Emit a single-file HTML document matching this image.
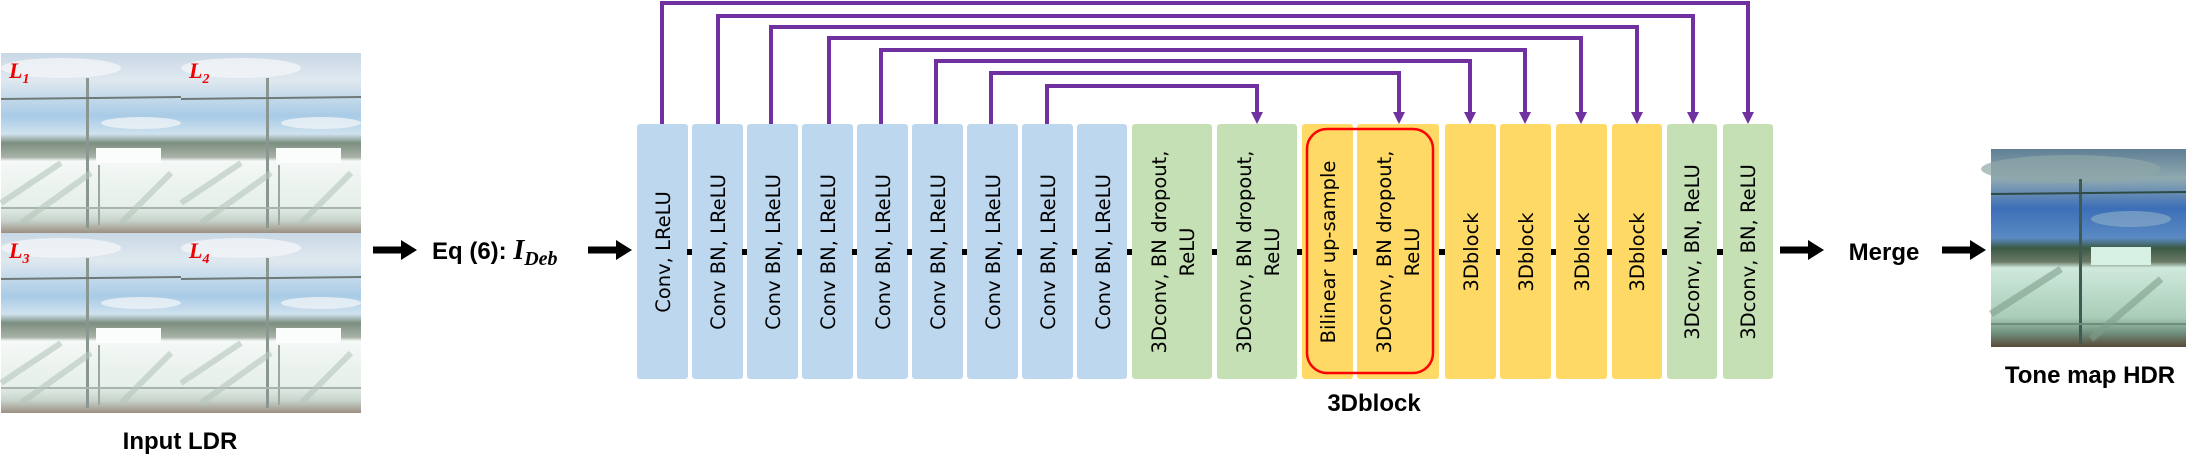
<!DOCTYPE html>
<html><head><meta charset="utf-8"><style>
html,body{margin:0;padding:0;background:#fff;}
svg{display:block;}
.t{font-family:"DejaVu Sans","Liberation Sans",sans-serif;font-size:19.5px;fill:#000;}
.b{font-family:"Liberation Sans",sans-serif;font-weight:bold;font-size:24px;fill:#000;}
</style></head><body>
<svg width="2195" height="475" viewBox="0 0 2195 475" xmlns="http://www.w3.org/2000/svg">
<defs>
<linearGradient id="ldr" x1="0" y1="0" x2="0" y2="1">
<stop offset="0" stop-color="#c9d8e6"/><stop offset="0.15" stop-color="#dfe8ef"/><stop offset="0.35" stop-color="#a9cbe6"/>
<stop offset="0.45" stop-color="#cfe2ee"/><stop offset="0.5" stop-color="#7c8f80"/><stop offset="0.58" stop-color="#a9b3a8"/>
<stop offset="0.6" stop-color="#f4f8f6"/><stop offset="0.85" stop-color="#e6efe9"/><stop offset="0.93" stop-color="#c7d4cc"/><stop offset="1" stop-color="#9c8f82"/>
</linearGradient>
<linearGradient id="hdr" x1="0" y1="0" x2="0" y2="1">
<stop offset="0" stop-color="#5f7f95"/><stop offset="0.15" stop-color="#8fa9b0"/><stop offset="0.3" stop-color="#3c6fb8"/>
<stop offset="0.45" stop-color="#5b8ac2"/><stop offset="0.5" stop-color="#3b5a45"/><stop offset="0.57" stop-color="#6b7a66"/>
<stop offset="0.6" stop-color="#cfe9dc"/><stop offset="0.85" stop-color="#a9cdb8"/><stop offset="0.93" stop-color="#6f8f7d"/><stop offset="1" stop-color="#5b4a38"/>
</linearGradient>
<g id="tile">
<rect width="180" height="180" fill="url(#ldr)"/>
<ellipse cx="60" cy="15" rx="60" ry="10" fill="#f2f5f7" opacity="0.8"/>
<ellipse cx="140" cy="70" rx="40" ry="6" fill="#eef3f6" opacity="0.8"/>
<rect x="95" y="95" width="65" height="15" fill="#fbfdfc"/>
<rect x="85" y="25" width="3" height="150" fill="#8a9690"/>
<line x1="0" y1="46" x2="180" y2="44" stroke="#6f7a78" stroke-width="2"/>
<rect x="97" y="112" width="2" height="60" fill="#9aa8a0"/>
<line x1="0" y1="155" x2="180" y2="155" stroke="#a8b5ad" stroke-width="2"/>
<path d="M0 150 L60 110 M20 170 L90 120 M120 170 L170 120" stroke="#b5c7bc" stroke-width="6" opacity="0.6"/>
</g>
<g id="arr"><rect x="0" y="-3.5" width="30" height="7" fill="#000"/><polygon points="28,-10 44,0 28,10" fill="#000"/></g>
<g id="ph" fill="#7030a0"><polygon points="-6,-12 6,-12 0,0"/></g>
</defs>

<use href="#tile" x="1" y="53"/><use href="#tile" x="181" y="53"/>
<use href="#tile" x="1" y="233"/><use href="#tile" x="181" y="233"/>
<g font-family="Liberation Serif,serif" font-style="italic" font-weight="bold" fill="#e00">
<text x="9" y="78" font-size="22">L<tspan font-size="14" dy="5">1</tspan></text>
<text x="189" y="78" font-size="22">L<tspan font-size="14" dy="5">2</tspan></text>
<text x="9" y="258" font-size="22">L<tspan font-size="14" dy="5">3</tspan></text>
<text x="189" y="258" font-size="22">L<tspan font-size="14" dy="5">4</tspan></text>
</g>
<text class="b" x="180" y="449" text-anchor="middle">Input LDR</text>

<use href="#arr" x="373" y="250"/>
<text class="b" x="432" y="259">Eq (6): <tspan font-family="Liberation Serif,serif" font-style="italic" font-size="28">I</tspan><tspan font-family="Liberation Serif,serif" font-style="italic" font-size="20" dy="6">Deb</tspan></text>
<use href="#arr" x="588" y="250"/>

<g fill="#bdd7ee">
<rect x="637" y="124" width="51" height="255" rx="3"/>
<rect x="692" y="124" width="51" height="255" rx="3"/>
<rect x="747" y="124" width="51" height="255" rx="3"/>
<rect x="802" y="124" width="51" height="255" rx="3"/>
<rect x="857" y="124" width="51" height="255" rx="3"/>
<rect x="912" y="124" width="51" height="255" rx="3"/>
<rect x="967" y="124" width="51" height="255" rx="3"/>
<rect x="1022" y="124" width="51" height="255" rx="3"/>
<rect x="1077" y="124" width="50" height="255" rx="3"/>
</g>
<g fill="#c5e0b4">
<rect x="1132" y="124" width="80" height="255" rx="3"/>
<rect x="1217" y="124" width="80" height="255" rx="3"/>
<rect x="1667" y="124" width="50" height="255" rx="3"/>
<rect x="1723" y="124" width="50" height="255" rx="3"/>
</g>
<g fill="#ffd966">
<rect x="1302" y="124" width="51" height="255" rx="3"/>
<rect x="1357" y="124" width="82" height="255" rx="3"/>
<rect x="1445" y="124" width="51" height="255" rx="3"/>
<rect x="1500" y="124" width="51" height="255" rx="3"/>
<rect x="1556" y="124" width="51" height="255" rx="3"/>
<rect x="1612" y="124" width="50" height="255" rx="3"/>
</g>
<rect x="1307" y="129" width="126" height="244" rx="20" fill="none" stroke="#f00" stroke-width="2.5"/>

<g fill="#000">
<rect x="687" y="249" width="5" height="6"/><rect x="742" y="249" width="5" height="6"/><rect x="797" y="249" width="5" height="6"/>
<rect x="852" y="249" width="5" height="6"/><rect x="907" y="249" width="5" height="6"/><rect x="962" y="249" width="5" height="6"/>
<rect x="1017" y="249" width="5" height="6"/><rect x="1072" y="249" width="5" height="6"/><rect x="1127" y="249" width="5" height="6"/>
<rect x="1212" y="249" width="5" height="6"/><rect x="1297" y="249" width="5" height="6"/><rect x="1353" y="249" width="4" height="6"/>
<rect x="1439" y="249" width="6" height="6"/><rect x="1496" y="249" width="4" height="6"/><rect x="1551" y="249" width="5" height="6"/>
<rect x="1607" y="249" width="5" height="6"/><rect x="1662" y="249" width="5" height="6"/><rect x="1717" y="249" width="6" height="6"/>
</g>

<g class="t" text-anchor="middle">
<text transform="translate(670,252) rotate(-90)">Conv, LReLU</text>
<text transform="translate(725,252) rotate(-90)">Conv BN, LReLU</text>
<text transform="translate(780,252) rotate(-90)">Conv BN, LReLU</text>
<text transform="translate(835,252) rotate(-90)">Conv BN, LReLU</text>
<text transform="translate(890,252) rotate(-90)">Conv BN, LReLU</text>
<text transform="translate(945,252) rotate(-90)">Conv BN, LReLU</text>
<text transform="translate(1000,252) rotate(-90)">Conv BN, LReLU</text>
<text transform="translate(1055,252) rotate(-90)">Conv BN, LReLU</text>
<text transform="translate(1110,252) rotate(-90)">Conv BN, LReLU</text>
<text transform="translate(1166,252) rotate(-90)">3Dconv, BN dropout,</text>
<text transform="translate(1194,252) rotate(-90)">ReLU</text>
<text transform="translate(1251,252) rotate(-90)">3Dconv, BN dropout,</text>
<text transform="translate(1279,252) rotate(-90)">ReLU</text>
<text transform="translate(1335,252) rotate(-90)">Bilinear up-sample</text>
<text transform="translate(1391,252) rotate(-90)">3Dconv, BN dropout,</text>
<text transform="translate(1419,252) rotate(-90)">ReLU</text>
<text transform="translate(1478,252) rotate(-90)">3Dblock</text>
<text transform="translate(1533,252) rotate(-90)">3Dblock</text>
<text transform="translate(1589,252) rotate(-90)">3Dblock</text>
<text transform="translate(1644,252) rotate(-90)">3Dblock</text>
<text transform="translate(1699,252) rotate(-90)">3Dconv, BN, ReLU</text>
<text transform="translate(1755,252) rotate(-90)">3Dconv, BN, ReLU</text>
</g>
<text class="b" x="1374" y="411" text-anchor="middle" font-size="21">3Dblock</text>

<g fill="none" stroke="#7030a0" stroke-width="4">
<polyline points="662,124 662,3 1748,3 1748,113"/>
<polyline points="718,124 718,16 1693,16 1693,113"/>
<polyline points="771,124 771,27 1637,27 1637,113"/>
<polyline points="829,124 829,38 1581,38 1581,113"/>
<polyline points="881,124 881,50 1525,50 1525,113"/>
<polyline points="936,124 936,61 1470,61 1470,113"/>
<polyline points="991,124 991,73 1399,73 1399,113"/>
<polyline points="1047,124 1047,86 1257,86 1257,113"/>
</g>
<use href="#ph" x="1748" y="124"/><use href="#ph" x="1693" y="124"/><use href="#ph" x="1637" y="124"/>
<use href="#ph" x="1581" y="124"/><use href="#ph" x="1525" y="124"/><use href="#ph" x="1470" y="124"/>
<use href="#ph" x="1399" y="124"/><use href="#ph" x="1257" y="124"/>

<use href="#arr" x="1780" y="250"/>
<text class="b" x="1884" y="260" text-anchor="middle" font-size="27">Merge</text>
<use href="#arr" x="1942" y="250"/>

<g transform="translate(1991,149)">
<rect width="195" height="198" fill="url(#hdr)"/>
<ellipse cx="80" cy="20" rx="90" ry="14" fill="#8fa6a8" opacity="0.7"/>
<ellipse cx="140" cy="70" rx="40" ry="8" fill="#8fb0c8" opacity="0.6"/>
<rect x="100" y="98" width="60" height="18" fill="#d6f0e4"/>
<rect x="88" y="30" width="3" height="165" fill="#3e5a52"/>
<line x1="0" y1="45" x2="195" y2="43" stroke="#2e4a44" stroke-width="2"/>
<line x1="0" y1="175" x2="195" y2="175" stroke="#6f8f7d" stroke-width="2"/>
<path d="M0 165 L70 120 M100 190 L170 130" stroke="#7f9f8d" stroke-width="7" opacity="0.6"/>
</g>
<text class="b" x="2090" y="383" text-anchor="middle" font-size="25">Tone map HDR</text>
</svg>
</body></html>
